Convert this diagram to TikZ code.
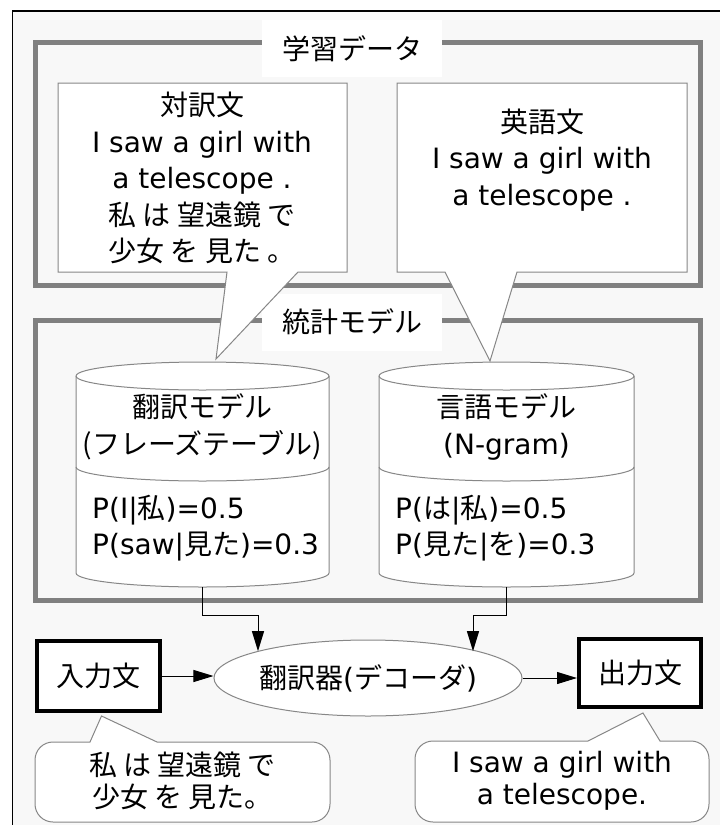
\documentclass[tikz,border=0pt]{standalone}
\usepackage{fontspec}
\setmainfont{DejaVu Sans}
\newfontfamily\jp{Noto Sans CJK JP}
\usetikzlibrary{arrows.meta,shapes.geometric}
\definecolor{framegray}{RGB}{128,128,128}
\definecolor{linegray}{RGB}{135,135,135}
\definecolor{bggray}{RGB}{248,248,248}
\begin{document}
\begin{tikzpicture}[x=1pt,y=-1pt,
  txt/.style={font=\fontsize{28}{36.5}\selectfont, align=center, inner sep=0pt},
  cyltxt/.style={font=\fontsize{28}{37}\selectfont, align=center, inner sep=0pt},
  ptxt/.style={font=\fontsize{28}{36}\selectfont, align=left, inner sep=0pt, anchor=west},
  btxt/.style={font=\fontsize{28}{32.5}\selectfont, align=center, inner sep=0pt},
  frame/.style={draw=framegray, line width=5pt},
  thinline/.style={draw=linegray, line width=1pt, fill=white},
  cylarea/.style={inner sep=0pt, minimum width=253pt, minimum height=225pt},
  arr/.style={draw=black, line width=1pt, -{Triangle[length=20pt,width=12pt]}},
  lbl/.style={fill=white, minimum width=180pt, minimum height=57pt, inner sep=0pt, font=\fontsize{28}{34}\selectfont\jp},
  heavy/.style={draw=black, line width=4pt, fill=white, inner sep=0pt, font=\fontsize{28}{34}\selectfont\jp}
]
\useasboundingbox (0,0) rectangle (720,825);
\fill[bggray] (12.5,11) rectangle (720,825);
\draw[black, line width=1.5pt] (720,11) -- (12.5,11) -- (12.5,825);

% frames
\draw[frame] (35,42.5) rectangle (700,285);
\draw[frame] (35,320) rectangle (700,600);
\node[lbl] (ldata) at (352,48.5) {学習データ};
\node[lbl] (lmodel) at (352,322) {統計モデル};

% cylinders
\foreach \L/\R/\cx/\rx in {76/329/202.5/126.5, 379/634/506.5/127.5}{
  \filldraw[thinline] (\L,376) -- (\L,573) arc[start angle=180,end angle=0,x radius=\rx,y radius=14]
     -- (\R,376) arc[start angle=0,end angle=-180,x radius=\rx,y radius=14] -- cycle;
  \draw[linegray, line width=1pt] (\L,376) arc[start angle=180,end angle=0,x radius=\rx,y radius=14];
  \draw[linegray, line width=1pt] (\L,467) arc[start angle=180,end angle=0,x radius=\rx,y radius=14];
}
\node[cylarea] (tm) at (202.5,474.5) {};
\node[cylarea] (lm) at (506.5,474.5) {};
\node[cyltxt] (tmname) at (202.5,427) {\jp 翻訳モデル\\\jp (フレーズテーブル)};
\node[cyltxt] (lmname) at (506.5,427) {\jp 言語モデル\\(N-gram)};
\node[ptxt] (tmprob) at (92,528) {P(I|{\jp 私})=0.5\\P(saw|{\jp 見た})=0.3};
\node[ptxt] (lmprob) at (395,528) {P({\jp は}|{\jp 私})=0.5\\P({\jp 見た}|{\jp を})=0.3};

% top callouts
\coordinate (tipA) at (216,359);
\coordinate (tipB) at (490,361);
\filldraw[thinline] (58,83) -- (347,83) -- (347,272) -- (298,272) -- (tipA) -- (227,272) -- (58,272) -- cycle;
\filldraw[thinline] (397,83) -- (687,83) -- (687,272) -- (517,272) -- (tipB) -- (445,272) -- (397,272) -- cycle;
\node[txt] (bitext) at (202,178) {{\jp 対訳文}\\I saw a girl with\\a telescope .\\{\jp 私 は 望遠鏡 で}\\{\jp 少女 を 見た 。}};
\node[txt] (entext) at (542,160) {{\jp 英語文}\\I saw a girl with\\a telescope .};

% bottom row
\node[ellipse, draw=linegray, line width=1pt, fill=white, minimum width=304pt, minimum height=76pt, inner sep=0pt,
      font=\fontsize{28}{34}\selectfont] (dec) at (368,678) {{\jp 翻訳器}({\jp デコーダ})};
\node[heavy, minimum width=123pt, minimum height=70pt] (in) at (98.5,676) {入力文};
\node[heavy, minimum width=122pt, minimum height=68pt] (out) at (640,673) {出力文};

\draw[arr] (tm.south) |- ++(55.5,28) -- ++(0,36);
\draw[arr] (lm.south) |- ++(-33.5,28) -- ++(0,36);
\draw[arr] (in.east) -- (in.east -| dec.west);
\draw[arr] (dec.east) -- (dec.east -| out.west);

% bottom callouts
\filldraw[thinline] (90,742) -- ([xshift=3pt,yshift=-3pt]in.south) -- (157,742) [rounded corners=18pt] -- (330,742) -- (330,822) -- (35,822) -- (35,742) [sharp corners] -- (90,742) -- cycle;
\filldraw[thinline] (588,741) -- ([xshift=3pt,yshift=-4pt]out.south) -- (660,741) [rounded corners=18pt] -- (709,741) -- (709,822) -- (415,822) -- (415,741) [sharp corners] -- (588,741) -- cycle;
\node[btxt] (jin) at (182.5,781) {\jp 私 は 望遠鏡 で\\\jp 少女 を 見た。};
\node[btxt] (eout) at (562,781) {I saw a girl with\\a telescope.};
\end{tikzpicture}
\end{document}
